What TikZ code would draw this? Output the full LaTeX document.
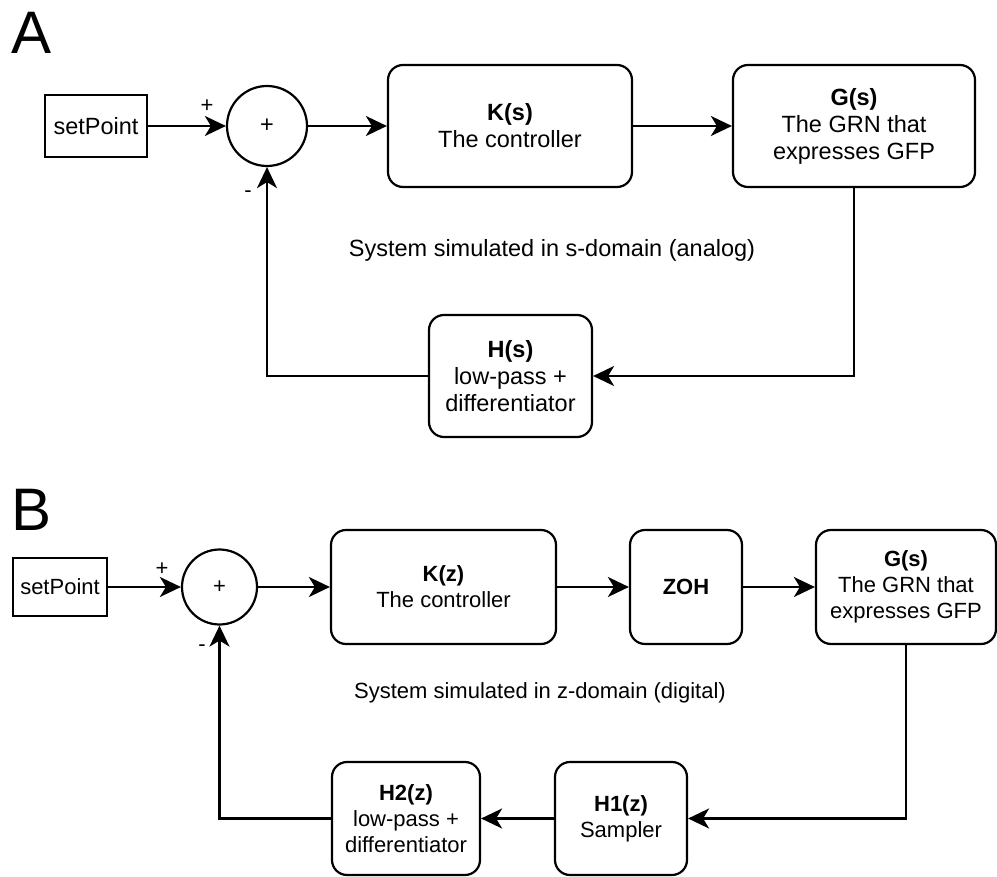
\documentclass[tikz,border=0pt]{standalone}
\usepackage{fontspec}
\setmainfont{Liberation Sans}
\usetikzlibrary{arrows.meta}
\begin{document}
\begin{tikzpicture}[x=1pt,y=-1pt,
  line width=2.2pt,
  arr/.style={-{Stealth[length=21pt,width=20pt,inset=6pt]}},
  sqbox/.style={draw,line width=2pt,inner sep=0pt},
  rbox/.style={draw,line width=2.2pt,rounded corners=15pt,inner sep=2pt,align=center},
  sumnode/.style={draw,circle,line width=2.2pt,inner sep=0pt},
  fa/.style={font=\fontsize{23.5}{27}\selectfont},
  fb/.style={font=\fontsize{22}{26}\selectfont},
  sign/.style={font=\fontsize{22}{24}\selectfont,inner sep=0pt},
  panel/.style={font=\fontsize{60}{60}\selectfont,inner sep=0pt}
]
\useasboundingbox (0,0) rectangle (997,877);

% ---------- Panel A ----------
\node[panel] (lA) at (32,33) {A};
\node[sqbox,fa,minimum width=102pt,minimum height=62pt] (spA) at (96,126) {setPoint};
\node[sumnode,minimum size=80pt,fa] (sumA) at (267,126) {+};
\node[rbox,fa,minimum width=244pt,minimum height=122pt] (KA) at (510,126) {\textbf{K(s)}\\The controller};
\node[rbox,fa,minimum width=242pt,minimum height=122pt] (GA) at (854,126) {\textbf{G(s)}\\The GRN that\\expresses GFP};
\node[rbox,fa,minimum width=163pt,minimum height=122pt] (HA) at (510.5,376) {\textbf{H(s)}\\low-pass +\\differentiator};
\node[fa,inner sep=0pt] (tA) at (552,250) {System simulated in s-domain (analog)};
\node[sign] (pA) at (207,106) {+};
\node[sign] (mA) at (248,194) {-};

\draw[arr] (spA) -- (sumA);
\draw[arr] (sumA) -- (KA);
\draw[arr] (KA) -- (GA);
\draw[arr] (GA.south) |- (HA.east);
\draw[arr] (HA.west) -| (sumA.south);

% ---------- Panel B ----------
\node[panel] (lB) at (32,510) {B};
\node[sqbox,fb,minimum width=94pt,minimum height=58pt] (spB) at (60,587) {setPoint};
\node[sumnode,minimum size=75pt,fb] (sumB) at (219.5,587) {+};
\node[rbox,fb,minimum width=225pt,minimum height=114pt] (KB) at (443.5,587) {\textbf{K(z)}\\The controller};
\node[rbox,fb,minimum width=112pt,minimum height=114pt] (ZB) at (686,587) {\textbf{ZOH}};
\node[rbox,fb,minimum width=180pt,minimum height=114pt] (GB) at (906,587) {\textbf{G(s)}\\The GRN that\\expresses GFP};
\node[rbox,fb,minimum width=132pt,minimum height=113pt] (H1B) at (621,818.5) {\textbf{H1(z)}\\Sampler};
\node[rbox,fb,minimum width=148pt,minimum height=113pt] (H2B) at (406,818.5) {\textbf{H2(z)}\\low-pass +\\differentiator};
\node[fb,inner sep=0pt] (tB) at (540,693) {System simulated in z-domain (digital)};
\node[sign] (pB) at (162,569) {+};
\node[sign] (mB) at (202,648) {-};

\draw[arr] (spB) -- (sumB);
\draw[arr] (sumB) -- (KB);
\draw[arr] (KB) -- (ZB);
\draw[arr] (ZB) -- (GB);
\draw[arr] (GB.south) |- (H1B.east);
\draw[arr] (H1B) -- (H2B);
\draw[arr] (H2B.west) -| (sumB.south);
\end{tikzpicture}
\end{document}
